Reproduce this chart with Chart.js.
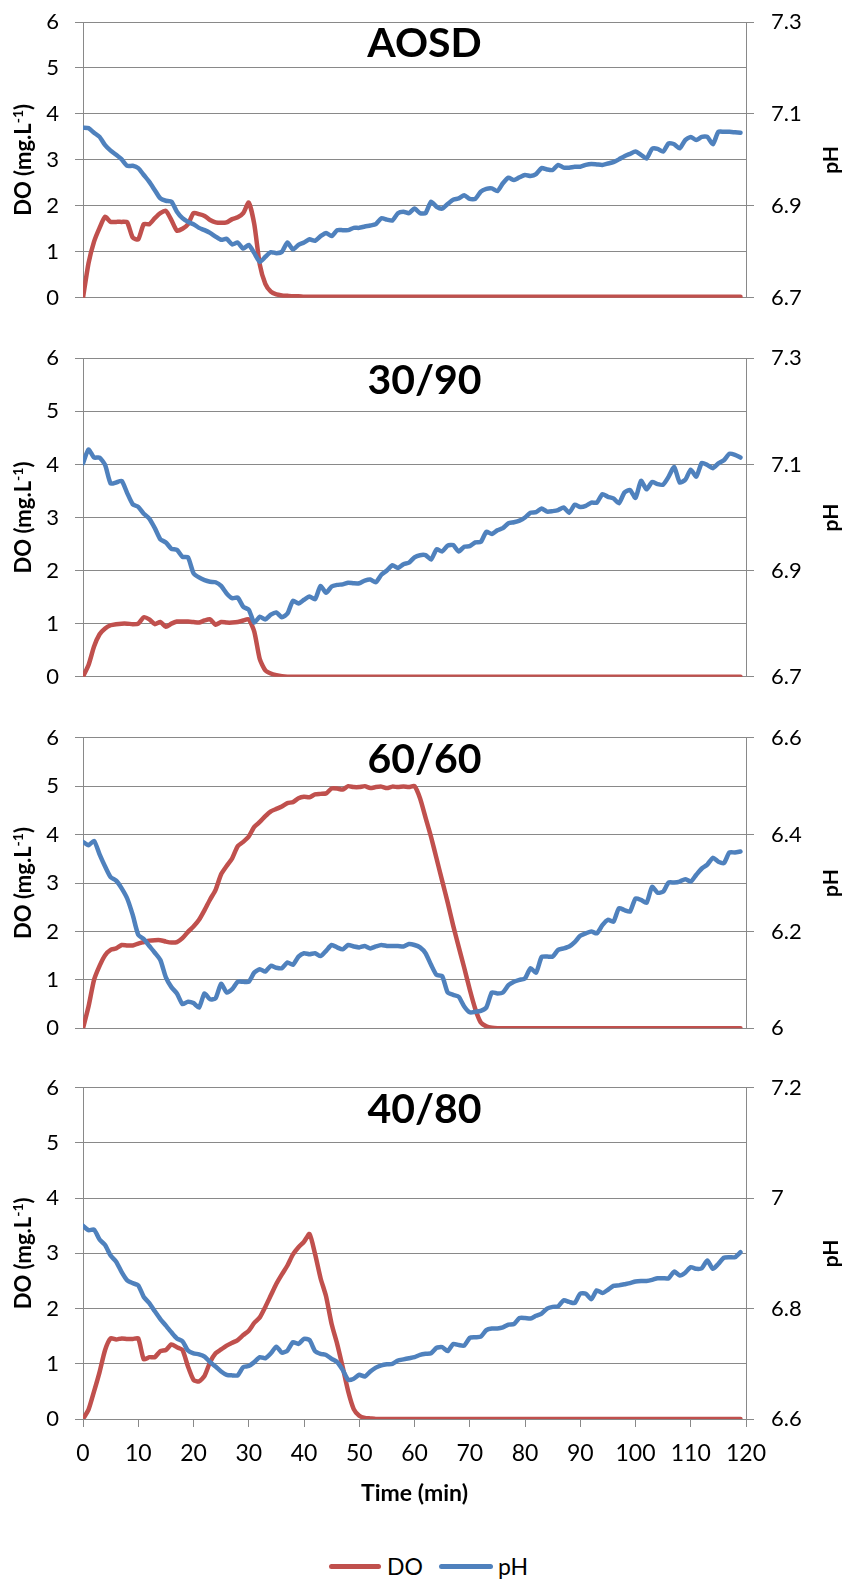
<!DOCTYPE html>
<html>
<head>
<meta charset="utf-8">
<script src="https://cdn.jsdelivr.net/npm/chart.js@4.4.1/dist/chart.umd.min.js"></script>
<style>
  html, body { margin: 0; padding: 0; background: #fff; }
  body { width: 849px; height: 1585px; position: relative; overflow: hidden; font-family: Lato, "Liberation Sans", sans-serif; }
  .panel { position: absolute; left: 0; width: 849px; }
  .panel canvas { display: block; }
  #legend { position: absolute; left: 0; top: 1551px; width: 849px; height: 30px; }
  .key { position: absolute; height: 5px; border-radius: 3px; top: 13px; }
  .keytext { position: absolute; top: 0; line-height: 30px; font-size: 23px; color: #000; }
</style>
</head>
<body>
<div id="legend">
  <div class="key" style="left:329px;width:52px;background:#C0504D"></div>
  <div class="keytext" style="left:387px">DO</div>
  <div class="key" style="left:439px;width:54px;background:#4F81BD"></div>
  <div class="keytext" style="left:498px">pH</div>
</div>
<script>
// Sampling times (min)
const minutes = [0,1,2,3,4,5,6,7,8,9,10,11,12,13,14,15,16,17,18,19,20,21,22,23,24,25,26,27,28,29,30,31,32,33,34,35,36,37,38,39,40,41,42,43,44,45,46,47,48,49,50,51,52,53,54,55,56,57,58,59,60,61,62,63,64,65,66,67,68,69,70,71,72,73,74,75,76,77,78,79,80,81,82,83,84,85,86,87,88,89,90,91,92,93,94,95,96,97,98,99,100,101,102,103,104,105,106,107,108,109,110,111,112,113,114,115,116,117,118,119];

const timeTicks = [0,10,20,30,40,50,60,70,80,90,100,110,120];
const doTicks = [0,1,2,3,4,5,6];
const panelNames = ['AOSD','30/90','60/60','40/80'];

const phTicksAOSD = [6.7,6.9,7.1,7.3];
const phTicks3090 = [6.7,6.9,7.1,7.3];
const phTicks6060 = [6,6.2,6.4,6.6];
const phTicks4080 = [6.6,6.8,7,7.2];

// AOSD
const doAOSD = [0,0.75,1.22,1.52,1.76,1.65,1.65,1.65,1.64,1.31,
  1.27,1.60,1.60,1.73,1.84,1.89,1.69,1.46,1.50,1.60,
  1.84,1.82,1.78,1.69,1.64,1.63,1.64,1.71,1.75,1.84,
  2.07,1.60,0.72,0.30,0.13,0.07,0.05,0.04,0.03,0.03,
  0.02,0.02,0.02,0.02,0.02,0.02,0.02,0.02,0.02,0.02,
  0.02,0.02,0.02,0.02,0.02,0.02,0.02,0.02,0.02,0.02,
  0.02,0.02,0.02,0.02,0.02,0.02,0.02,0.02,0.02,0.02,
  0.02,0.02,0.02,0.02,0.02,0.02,0.02,0.02,0.02,0.02,
  0.02,0.02,0.02,0.02,0.02,0.02,0.02,0.02,0.02,0.02,
  0.02,0.02,0.02,0.02,0.02,0.02,0.02,0.02,0.02,0.02,
  0.02,0.02,0.02,0.02,0.02,0.02,0.02,0.02,0.02,0.02,
  0.02,0.02,0.02,0.02,0.02,0.02,0.02,0.02,0.02,0.02];
const phAOSD = [7.070,7.069,7.059,7.050,7.032,7.020,7.011,7.001,6.987,6.987,
  6.982,6.967,6.952,6.934,6.916,6.911,6.909,6.887,6.873,6.865,
  6.860,6.852,6.847,6.841,6.833,6.826,6.828,6.816,6.820,6.807,
  6.815,6.797,6.778,6.789,6.799,6.797,6.800,6.820,6.805,6.815,
  6.820,6.827,6.824,6.834,6.841,6.834,6.847,6.847,6.847,6.852,
  6.852,6.855,6.857,6.860,6.873,6.870,6.868,6.884,6.887,6.884,
  6.894,6.884,6.884,6.909,6.898,6.894,6.904,6.913,6.916,6.923,
  6.915,6.915,6.931,6.937,6.938,6.932,6.949,6.961,6.956,6.962,
  6.967,6.965,6.969,6.982,6.979,6.978,6.989,6.983,6.983,6.985,
  6.985,6.989,6.991,6.990,6.989,6.992,6.995,7.001,7.008,7.013,
  7.018,7.011,7.003,7.024,7.024,7.018,7.036,7.034,7.025,7.043,
  7.050,7.043,7.050,7.050,7.034,7.061,7.061,7.061,7.060,7.059];

// 30/90
const do3090 = [0,0.22,0.57,0.80,0.91,0.97,0.99,1.00,1.00,0.99,
  1.00,1.12,1.08,0.99,1.03,0.94,1.00,1.04,1.04,1.04,
  1.03,1.02,1.06,1.08,0.98,1.03,1.02,1.02,1.03,1.06,
  1.08,0.85,0.33,0.12,0.06,0.03,0.01,0,0,0,
  0,0,0,0,0,0,0,0,0,0,
  0,0,0,0,0,0,0,0,0,0,
  0,0,0,0,0,0,0,0,0,0,
  0,0,0,0,0,0,0,0,0,0,
  0,0,0,0,0,0,0,0,0,0,
  0,0,0,0,0,0,0,0,0,0,
  0,0,0,0,0,0,0,0,0,0,
  0,0,0,0,0,0,0,0,0,0];
const ph3090 = [7.102,7.128,7.113,7.113,7.099,7.064,7.066,7.069,7.046,7.025,
  7.020,7.007,6.998,6.980,6.959,6.953,6.941,6.939,6.926,6.925,
  6.895,6.887,6.882,6.879,6.878,6.871,6.857,6.848,6.849,6.832,
  6.826,6.802,6.813,6.808,6.817,6.821,6.812,6.819,6.843,6.838,
  6.845,6.851,6.846,6.871,6.858,6.870,6.873,6.874,6.877,6.876,
  6.876,6.881,6.883,6.878,6.892,6.900,6.910,6.905,6.912,6.915,
  6.925,6.929,6.929,6.921,6.940,6.936,6.947,6.948,6.936,6.945,
  6.946,6.953,6.954,6.973,6.969,6.976,6.980,6.989,6.991,6.994,
  7.000,7.009,7.010,7.017,7.011,7.012,7.014,7.019,7.009,7.024,
  7.020,7.022,7.028,7.028,7.044,7.039,7.036,7.027,7.047,7.052,
  7.037,7.069,7.053,7.067,7.063,7.062,7.077,7.095,7.066,7.071,
  7.090,7.077,7.103,7.099,7.093,7.102,7.108,7.120,7.118,7.113];

// 60/60
const do6060 = [0,0.45,1.00,1.29,1.51,1.62,1.65,1.72,1.71,1.71,
  1.75,1.78,1.81,1.82,1.82,1.79,1.77,1.78,1.86,1.99,
  2.10,2.24,2.44,2.66,2.86,3.18,3.35,3.51,3.76,3.85,
  3.96,4.16,4.26,4.38,4.48,4.53,4.58,4.65,4.67,4.75,
  4.78,4.77,4.83,4.84,4.85,4.95,4.95,4.93,5.00,4.98,
  4.98,5.00,4.96,4.98,4.99,4.96,4.99,4.98,4.99,4.98,
  5.00,4.75,4.35,3.95,3.50,3.05,2.60,2.12,1.68,1.25,
  0.80,0.40,0.12,0.04,0.01,0,0,0,0,0,
  0,0,0,0,0,0,0,0,0,0,
  0,0,0,0,0,0,0,0,0,0,
  0,0,0,0,0,0,0,0,0,0,
  0,0,0,0,0,0,0,0,0,0];
const ph6060 = [6.385,6.378,6.387,6.359,6.334,6.312,6.305,6.289,6.268,6.234,
  6.193,6.184,6.170,6.156,6.141,6.105,6.085,6.072,6.050,6.055,
  6.052,6.043,6.072,6.060,6.062,6.092,6.074,6.081,6.096,6.096,
  6.096,6.115,6.122,6.117,6.129,6.125,6.124,6.136,6.131,6.148,
  6.155,6.153,6.155,6.149,6.160,6.172,6.167,6.163,6.172,6.169,
  6.167,6.170,6.165,6.169,6.172,6.170,6.170,6.170,6.169,6.174,
  6.172,6.167,6.155,6.131,6.110,6.108,6.074,6.069,6.065,6.045,
  6.033,6.034,6.036,6.043,6.074,6.072,6.074,6.089,6.096,6.100,
  6.103,6.124,6.115,6.147,6.148,6.148,6.162,6.165,6.169,6.178,
  6.191,6.196,6.200,6.196,6.213,6.224,6.220,6.248,6.244,6.241,
  6.268,6.265,6.259,6.292,6.280,6.282,6.301,6.301,6.303,6.308,
  6.303,6.317,6.330,6.338,6.352,6.344,6.341,6.363,6.363,6.365];

// 40/80
const do4080 = [0,0.17,0.50,0.85,1.25,1.46,1.44,1.46,1.45,1.45,
  1.46,1.08,1.12,1.12,1.23,1.25,1.35,1.30,1.25,0.95,
  0.71,0.68,0.78,1.03,1.19,1.26,1.33,1.38,1.43,1.52,
  1.60,1.74,1.84,2.03,2.24,2.45,2.62,2.78,2.98,3.11,
  3.21,3.35,2.99,2.55,2.22,1.72,1.36,0.94,0.50,0.18,
  0.06,0.02,0.01,0,0,0,0,0,0,0,
  0,0,0,0,0,0,0,0,0,0,
  0,0,0,0,0,0,0,0,0,0,
  0,0,0,0,0,0,0,0,0,0,
  0,0,0,0,0,0,0,0,0,0,
  0,0,0,0,0,0,0,0,0,0,
  0,0,0,0,0,0,0,0,0,0];
const ph4080 = [6.950,6.942,6.943,6.925,6.915,6.896,6.885,6.866,6.851,6.846,
  6.842,6.821,6.810,6.795,6.781,6.769,6.757,6.746,6.741,6.724,
  6.719,6.717,6.713,6.703,6.695,6.686,6.680,6.679,6.679,6.694,
  6.696,6.703,6.712,6.710,6.719,6.731,6.720,6.724,6.739,6.736,
  6.745,6.743,6.723,6.718,6.716,6.709,6.703,6.689,6.671,6.673,
  6.680,6.677,6.686,6.693,6.697,6.699,6.700,6.706,6.708,6.710,
  6.712,6.716,6.718,6.719,6.729,6.730,6.723,6.736,6.734,6.733,
  6.747,6.748,6.749,6.761,6.764,6.764,6.766,6.771,6.772,6.783,
  6.783,6.782,6.787,6.791,6.800,6.803,6.804,6.815,6.812,6.810,
  6.827,6.827,6.817,6.833,6.828,6.834,6.841,6.842,6.844,6.846,
  6.849,6.850,6.850,6.852,6.855,6.855,6.855,6.867,6.860,6.865,
  6.875,6.872,6.873,6.887,6.872,6.881,6.892,6.893,6.893,6.902];

const doColor = '#C0504D';
const phColor = '#4F81BD';
const gridGray = '#898989';
const FONT = 'Lato';

// Plot-area frame of each stacked panel (page pixels)
const frames = [
  { top: 22,     bottom: 297.7 },
  { top: 358.3,  bottom: 676.7 },
  { top: 737.7,  bottom: 1028.3 },
  { top: 1087.7, bottom: 1419, axis: true }
];
const AXIS_BLOCK_BOTTOM = 1520;
// room above/below each plot area, larger than the tick-label padding Chart.js reserves
const MARGIN = 36;

const panelText = {
  id: 'panelText',
  afterDraw(chart, args, opts) {
    const { ctx, chartArea } = chart;
    const cy = (chartArea.top + chartArea.bottom) / 2;
    ctx.save();
    ctx.fillStyle = '#000';

    // panel heading
    ctx.font = `bold 41px ${FONT}`;
    ctx.textAlign = 'center';
    ctx.textBaseline = 'middle';
    ctx.fillText(opts.name, 424.5, chartArea.top + 22);

    // left axis title: DO (mg.L^-1)
    ctx.save();
    ctx.translate(30.5, cy);
    ctx.rotate(-Math.PI / 2);
    ctx.textAlign = 'left';
    ctx.textBaseline = 'alphabetic';
    const mainF = `bold 22px ${FONT}`, supF = `bold 14px ${FONT}`;
    ctx.font = mainF;
    const w1 = ctx.measureText('DO (mg.L').width;
    const w3 = ctx.measureText(')').width;
    ctx.font = supF;
    const w2 = ctx.measureText('-1').width;
    let x = -(w1 + w2 + w3) / 2;
    ctx.font = mainF; ctx.fillText('DO (mg.L', x, 0); x += w1;
    ctx.font = supF;  ctx.fillText('-1', x, -8);      x += w2;
    ctx.font = mainF; ctx.fillText(')', x, 0);
    ctx.restore();

    // right axis title: pH
    ctx.save();
    ctx.translate(837.5, cy);
    ctx.rotate(-Math.PI / 2);
    ctx.textAlign = 'center';
    ctx.textBaseline = 'alphabetic';
    ctx.font = `bold 21px ${FONT}`;
    ctx.fillText('pH', 0, 0);
    ctx.restore();

    ctx.restore();
  }
};

function fmtPh(v) {
  return String(Math.round(v * 10) / 10);
}

function buildPanel(idx, doVals, phVals, phTicks) {
  const f = frames[idx];
  const canvasTop = Math.floor(f.top) - MARGIN;
  const canvasBottom = f.axis ? AXIS_BLOCK_BOTTOM : Math.ceil(f.bottom) + MARGIN;
  const h = canvasBottom - canvasTop;

  const holder = document.createElement('div');
  holder.className = 'panel';
  holder.style.top = canvasTop + 'px';
  holder.style.height = h + 'px';
  const canvas = document.createElement('canvas');
  canvas.width = 849;
  canvas.height = h;
  canvas.style.width = '849px';
  canvas.style.height = h + 'px';
  holder.appendChild(canvas);
  document.body.appendChild(holder);

  const lineCommon = {
    borderWidth: 4.5,
    pointRadius: 0,
    pointHoverRadius: 0,
    tension: 0.2,
    borderJoinStyle: 'round',
    borderCapStyle: 'round',
    fill: false
  };

  new Chart(canvas, {
    type: 'line',
    data: {
      datasets: [
        Object.assign({
          label: 'DO',
          data: minutes.map((m, i) => ({ x: m, y: doVals[i] })),
          borderColor: doColor,
          backgroundColor: doColor,
          yAxisID: 'yDO',
          order: 2
        }, lineCommon),
        Object.assign({
          label: 'pH',
          data: minutes.map((m, i) => ({ x: m, y: phVals[i] })),
          borderColor: phColor,
          backgroundColor: phColor,
          yAxisID: 'yPH',
          order: 1
        }, lineCommon)
      ]
    },
    options: {
      responsive: false,
      animation: false,
      devicePixelRatio: 1,
      events: [],
      layout: {
        padding: {
          left: 0,
          right: 0,
          top: f.top - canvasTop,
          bottom: f.axis ? 0 : canvasBottom - f.bottom
        }
      },
      plugins: {
        legend: { display: false },
        tooltip: { enabled: false },
        panelText: { name: panelNames[idx] }
      },
      scales: {
        x: {
          type: 'linear',
          min: 0,
          max: 120,
          display: !!f.axis,
          afterBuildTicks: (s) => { s.ticks = timeTicks.map(v => ({ value: v })); },
          afterFit: (s) => { if (f.axis) s.height = AXIS_BLOCK_BOTTOM - f.bottom; },
          grid: { drawOnChartArea: false, drawTicks: true, tickLength: 8, color: gridGray, lineWidth: 1 },
          border: { display: true, color: gridGray, width: 1 },
          ticks: { color: '#000', font: { family: FONT, size: 23 }, padding: 13, maxRotation: 0, autoSkip: false },
          title: { display: true, text: 'Time (min)', color: '#000', font: { family: FONT, size: 23, weight: 'bold' }, padding: { top: 0, bottom: 13 } }
        },
        yDO: {
          type: 'linear',
          position: 'left',
          min: 0,
          max: 6,
          afterBuildTicks: (s) => { s.ticks = doTicks.map(v => ({ value: v })); },
          afterFit: (s) => { s.width = 83; },
          grid: { drawOnChartArea: true, drawTicks: true, tickLength: 8, color: gridGray, lineWidth: 1 },
          border: { display: true, color: gridGray, width: 1 },
          ticks: { color: '#000', font: { family: FONT, size: 22 }, padding: 16 }
        },
        yPH: {
          type: 'linear',
          position: 'right',
          min: phTicks[0],
          max: phTicks[phTicks.length - 1],
          afterBuildTicks: (s) => { s.ticks = phTicks.map(v => ({ value: v })); },
          afterFit: (s) => { s.width = 103; },
          grid: { drawOnChartArea: false, drawTicks: true, tickLength: 8, color: gridGray, lineWidth: 1 },
          border: { display: true, color: gridGray, width: 1 },
          ticks: { color: '#000', font: { family: FONT, size: 22 }, padding: 17, callback: (v) => fmtPh(v) }
        }
      }
    },
    plugins: [panelText]
  });
}

buildPanel(0, doAOSD, phAOSD, phTicksAOSD);
buildPanel(1, do3090, ph3090, phTicks3090);
buildPanel(2, do6060, ph6060, phTicks6060);
buildPanel(3, do4080, ph4080, phTicks4080);
</script>
</body>
</html>
